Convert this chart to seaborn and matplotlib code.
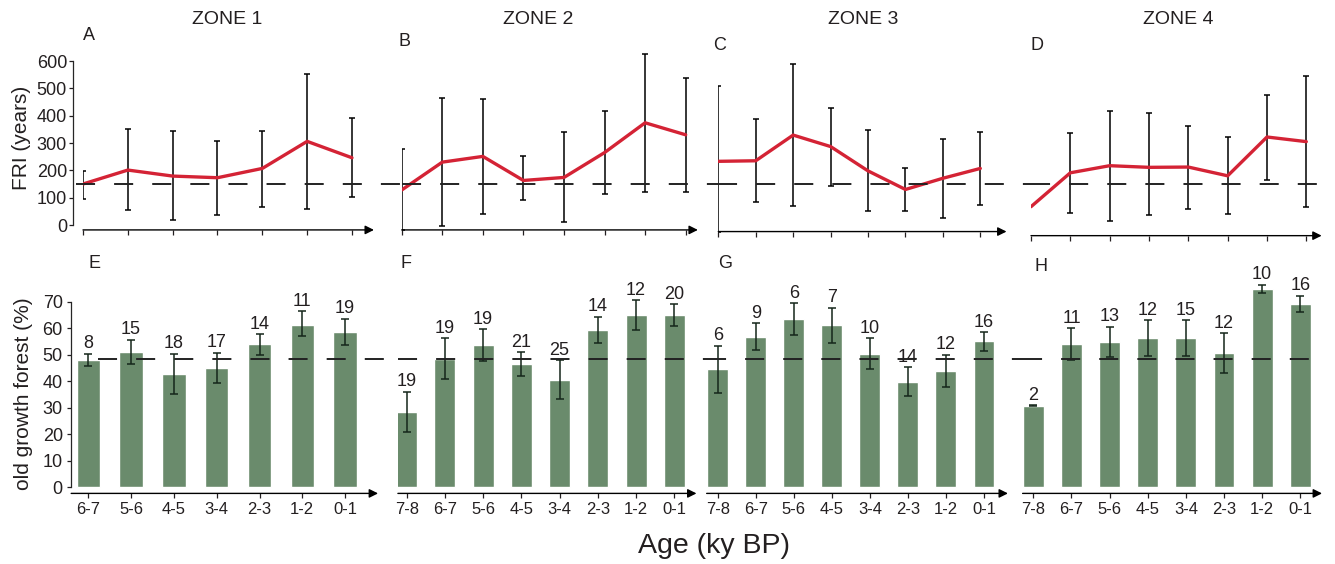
import numpy as np
import matplotlib.pyplot as plt
import seaborn as sns

# ---- data ----
zones = ['ZONE 1', 'ZONE 2', 'ZONE 3', 'ZONE 4']
top_letters = ['A', 'B', 'C', 'D']
bot_letters = ['E', 'F', 'G', 'H']

ages_z1 = ['6-7', '5-6', '4-5', '3-4', '2-3', '1-2', '0-1']
ages_z234 = ['7-8', '6-7', '5-6', '4-5', '3-4', '2-3', '1-2', '0-1']

# fire return interval (years): mean, upper and lower error limits
fri_z1 = [150, 201, 179, 173, 207, 306, 246]
fri_z1_hi = [199, 350, 343, 309, 345, 552, 390]
fri_z1_lo = [95, 54, 17, 37, 67, 60, 102]

fri_z2 = [128, 230, 251, 163, 174, 265, 374, 330]
fri_z2_hi = [278, 465, 460, 251, 339, 418, 627, 539]
fri_z2_lo = [-18, -5, 41, 91, 11, 115, 122, 122]

fri_z3 = [233, 235, 329, 287, 198, 130, 171, 207]
fri_z3_hi = [510, 389, 588, 427, 346, 210, 313, 341]
fri_z3_lo = [-24, 85, 70, 141, 50, 52, 27, 72]

fri_z4 = [67, 191, 217, 211, 212, 180, 322, 305]
fri_z4_hi = [np.nan, 335, 416, 411, 363, 322, 477, 546]
fri_z4_lo = [np.nan, 44, 15, 35, 60, 40, 166, 65]

fri_ref = 150

# old growth forest (%): mean, upper and lower error limits, sample count
og_z1 = [48.0, 51.0, 42.7, 45.0, 53.9, 61.1, 58.6]
og_z1_hi = [50.4, 55.7, 50.4, 50.8, 57.8, 66.4, 63.6]
og_z1_lo = [45.6, 46.4, 35.1, 39.3, 49.8, 56.9, 53.7]
n_z1 = [8, 15, 18, 17, 14, 11, 19]

og_z2 = [28.4, 48.4, 53.7, 46.5, 40.5, 59.3, 65.0, 65.0]
og_z2_hi = [36.1, 56.2, 59.6, 51.0, 48.0, 64.3, 70.5, 69.0]
og_z2_lo = [20.9, 40.7, 47.8, 42.1, 33.2, 54.3, 59.2, 60.7]
n_z2 = [19, 19, 19, 21, 25, 14, 12, 20]

og_z3 = [44.6, 56.7, 63.5, 61.2, 50.3, 39.7, 43.9, 55.2]
og_z3_hi = [53.4, 61.8, 69.5, 67.7, 56.2, 45.2, 50.0, 58.6]
og_z3_lo = [35.6, 51.8, 57.4, 54.3, 44.6, 34.4, 37.7, 51.3]
n_z3 = [6, 9, 6, 7, 10, 14, 12, 16]

og_z4 = [30.7, 54.0, 54.8, 56.3, 56.3, 50.6, 74.8, 69.1]
og_z4_hi = [30.9, 60.1, 60.6, 63.0, 63.0, 58.2, 76.4, 72.3]
og_z4_lo = [30.6, 48.1, 49.1, 49.5, 49.6, 43.2, 73.3, 66.0]
n_z4 = [2, 11, 13, 12, 15, 12, 10, 16]

og_ref = 48.5

# ---- style ----
sns.set_style('ticks')
plt.rcParams['font.family'] = ['Liberation Sans', 'DejaVu Sans']
plt.rcParams['text.color'] = '#231f20'
plt.rcParams['axes.labelcolor'] = '#231f20'
plt.rcParams['xtick.color'] = '#231f20'
plt.rcParams['ytick.color'] = '#231f20'

RED = '#d42335'
GREEN = '#6a8b6c'
DASH = (0, (9.8, 9.8))
W, H = 1335, 564


def rect(left, right, top, bottom):
    return [left / W, 1 - bottom / H, (right - left) / W, (bottom - top) / H]


def arrow_axis(ax):
    ax.annotate('', xy=(1, 0), xytext=(0, 0), xycoords='axes fraction',
                arrowprops=dict(arrowstyle='-|>', color='black', lw=1.0,
                                mutation_scale=13, shrinkA=0, shrinkB=0))


fig = plt.figure(figsize=(W / 100, H / 100), dpi=100)

# ---- top row: FRI ----
top_data = [(fri_z1, fri_z1_hi, fri_z1_lo), (fri_z2, fri_z2_hi, fri_z2_lo),
            (fri_z3, fri_z3_hi, fri_z3_lo), (fri_z4, fri_z4_hi, fri_z4_lo)]
# (first point px, step px, xmax, ylim low)
top_geo = [(83, 44.83, 6.49, -18), (401.7, 40.57, 7.3, -18),
           (718.3, 37.43, 7.7, -24), (1031, 39.33, 7.39, -39)]
top_ymax = 640
top_zero, top_ppu = 225, 0.2733
top_axes = []
for (x0, step, xmax, ylo) in top_geo:
    ax = fig.add_axes(rect(x0, x0 + xmax * step, top_zero - top_ymax * top_ppu,
                           top_zero - ylo * top_ppu))
    ax.set_xlim(0, xmax)
    ax.set_ylim(ylo, top_ymax)
    top_axes.append(ax)

dash_starts = [76] + [g[0] for g in top_geo[1:]]
dash_ends = [g[0] for g in top_geo[1:]] + [1325]

for i, ax in enumerate(top_axes):
    mean, hi, lo = [np.array(a, dtype=float) for a in top_data[i]]
    x = np.arange(len(mean))
    ok = ~np.isnan(hi)
    ax.errorbar(x[ok], mean[ok], yerr=[mean[ok] - lo[ok], hi[ok] - mean[ok]],
                fmt='none', ecolor='black', elinewidth=1.1, capsize=2.5,
                capthick=1.1, zorder=2)
    sns.lineplot(x=x, y=mean, ax=ax, color=RED, lw=2.4, zorder=3)
    x0, step, xmax, ylo = top_geo[i]
    left = x0
    right = x0 + xmax * step
    ax.axhline(fri_ref, xmin=(dash_starts[i] - left) / (right - left),
               xmax=(dash_ends[i] - left) / (right - left), color='#222222',
               lw=1.4, ls=DASH, clip_on=False, zorder=4)
    for s in ['top', 'right', 'bottom', 'left']:
        ax.spines[s].set_visible(False)
    ax.set_xticks(x)
    ax.set_xticklabels([])
    ax.tick_params(axis='x', length=3.5, width=0.9, direction='out')
    arrow_axis(ax)
    if i == 0:
        ax.spines['left'].set_visible(True)
        ax.spines['left'].set_position(('outward', 7.5))
        ax.spines['left'].set_bounds(0, 600)
        ax.spines['left'].set_linewidth(0.9)
        ax.set_yticks(range(0, 601, 100))
        ax.tick_params(axis='y', length=3, width=0.9, pad=1, labelsize=13)
        ax.set_ylabel('FRI (years)', fontsize=15)
        ax.yaxis.set_label_coords(-0.179, 0.511)
    else:
        ax.set_yticks([])
    ax.set_xlabel('')

# ---- bottom row: old growth forest ----
bot_data = [(ages_z1, og_z1, og_z1_hi, og_z1_lo, n_z1),
            (ages_z234, og_z2, og_z2_hi, og_z2_lo, n_z2),
            (ages_z234, og_z3, og_z3_hi, og_z3_lo, n_z3),
            (ages_z234, og_z4, og_z4_hi, og_z4_lo, n_z4)]
bot_geo = [(88.3, 42.8, -0.40, 6.77), (406.7, 38.23, -0.23, 7.58),
           (717.7, 38.04, -0.29, 7.63), (1033.3, 38.14, -0.28, 7.57)]
bot_ylim = (-2.3, 80)
bot_zero, bot_ppu = 487.3, 2.652

bdash_starts = [98] + [g[0] + g[2] * g[1] for g in bot_geo[1:]]
bdash_ends = [g[0] + g[2] * g[1] for g in bot_geo[1:]] + [1325]

for i, (x0, step, xlo, xhi) in enumerate(bot_geo):
    left = x0 + xlo * step
    right = x0 + xhi * step
    ax = fig.add_axes(rect(left, right, bot_zero - bot_ylim[1] * bot_ppu,
                           bot_zero - bot_ylim[0] * bot_ppu))
    cats, mean, hi, lo, n = bot_data[i]
    mean = np.array(mean)
    hi = np.array(hi)
    lo = np.array(lo)
    sns.barplot(x=cats, y=mean, ax=ax, color=GREEN, saturation=1,
                width=0.55, errorbar=None, zorder=1)
    x = np.arange(len(cats))
    ax.errorbar(x, mean, yerr=[mean - lo, hi - mean], fmt='none',
                ecolor='#15261a', elinewidth=1.1, capsize=3, capthick=1.1,
                zorder=2, clip_on=False)
    for xi, top, cnt in zip(x, hi, n):
        ax.annotate(str(cnt), (xi, top), xytext=(0, 1),
                    textcoords='offset points', ha='center', va='bottom',
                    fontsize=13, annotation_clip=False)
    ax.set_xlim(xlo, xhi)
    ax.set_ylim(*bot_ylim)
    ax.axhline(og_ref, xmin=(bdash_starts[i] - left) / (right - left),
               xmax=(bdash_ends[i] - left) / (right - left), color='#222222',
               lw=1.4, ls=DASH, clip_on=False, zorder=4)
    for s in ['top', 'right', 'bottom', 'left']:
        ax.spines[s].set_visible(False)
    ax.tick_params(axis='x', length=3.5, width=0.9, direction='out',
                   labelsize=12, pad=3)
    arrow_axis(ax)
    ax.set_xlabel('')
    if i == 0:
        ax.spines['left'].set_visible(True)
        ax.spines['left'].set_bounds(0, 70)
        ax.spines['left'].set_linewidth(0.9)
        ax.set_yticks(range(0, 71, 10))
        ax.tick_params(axis='y', length=3, width=0.9, pad=3, labelsize=13)
        ax.set_ylabel('old growth forest (%)', fontsize=15)
        ax.yaxis.set_label_coords(-0.124, 0.455)
    else:
        ax.set_yticks([])
        ax.set_ylabel('')

# ---- figure texts ----
zone_x = [227, 538, 863, 1178]
for zx, name in zip(zone_x, zones):
    fig.text(zx / W, 1 - 20 / H, name, ha='center', va='center', fontsize=14)

top_letter_pos = [(83, 35), (398, 41), (713, 45), (1031, 45)]
for (lx, ly), lt in zip(top_letter_pos, top_letters):
    fig.text(lx / W, 1 - ly / H, lt, ha='left', va='center', fontsize=13)

bot_letter_pos = [(88, 264), (400, 263), (718, 264), (1034, 267)]
for (lx, ly), lt in zip(bot_letter_pos, bot_letters):
    fig.text(lx / W, 1 - ly / H, lt, ha='left', va='center', fontsize=13)

fig.text(714 / W, 1 - 546 / H, 'Age (ky BP)', ha='center', va='center',
         fontsize=20.5)

fig.savefig('out.png', dpi=100)
